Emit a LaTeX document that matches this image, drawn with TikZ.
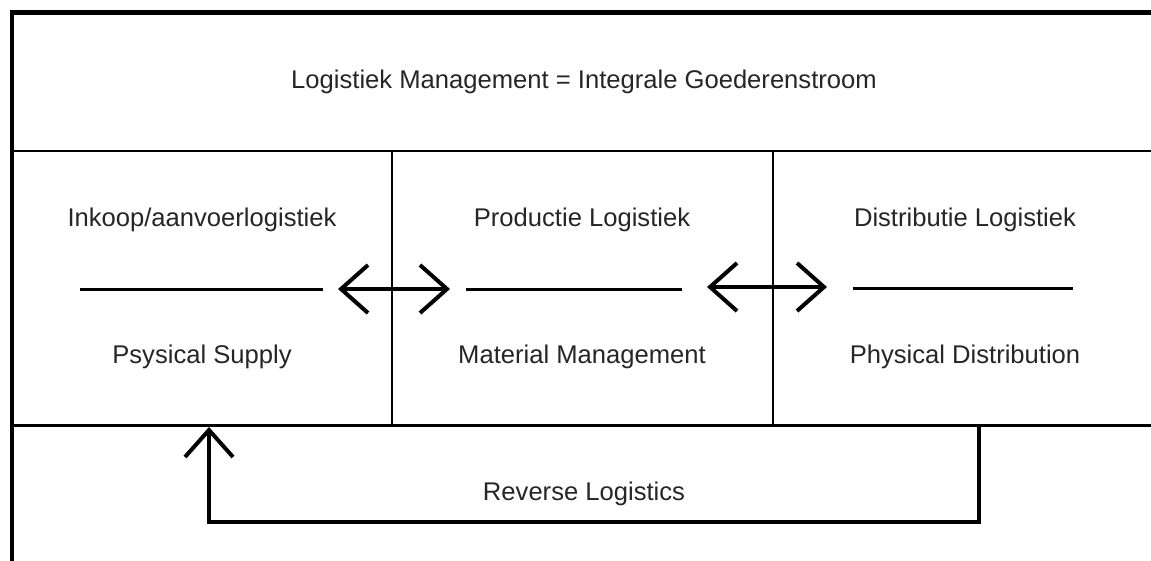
\documentclass[tikz,border=0pt]{standalone}
\usepackage{fontspec}
\setmainfont{Liberation Sans}
\usetikzlibrary{arrows.meta}
\begin{document}
\begin{tikzpicture}[x=1pt,y=-1pt,
  frame/.style={line width=4.5pt},
  grid/.style={line width=2.8pt},
  sepline/.style={line width=3pt},
  flow/.style={line width=4pt,
    arrows={Straight Barb[length=27pt,width=48pt,line width=4pt]-Straight Barb[length=27pt,width=48pt,line width=4pt]}},
  back/.style={line width=4pt, line join=miter,
    arrows={-Straight Barb[length=27pt,width=48pt,line width=4pt]}},
  lbl/.style={font=\fontsize{25.6}{30}\selectfont, text=black!85, inner sep=0pt}]
\useasboundingbox (0,0) rectangle (1151,560);
\clip (0,0) rectangle (1151,560);
\fill[white] (0,0) rectangle (1151,560);

% outer frame and grid
\draw[frame] (1160,12.5) -- (12,12.5) -- (12,570);
\draw[grid] (12,151) -- (1160,151);
\draw[grid] (12,425.5) -- (1160,425.5);
\draw[grid] (392,151) -- (392,425.5);
\draw[grid] (773,151) -- (773,425.5);

% labels
\node[lbl] (title) at (584,82) {Logistiek Management = Integrale Goederenstroom};
\node[lbl] (in1) at (202,220) {Inkoop/aanvoerlogistiek};
\node[lbl] (in2) at (202,357) {Psysical Supply};
\node[lbl] (pr1) at (582,220) {Productie Logistiek};
\node[lbl] (pr2) at (582,357) {Material Management};
\node[lbl] (di1) at (965,220) {Distributie Logistiek};
\node[lbl] (di2) at (965,357) {Physical Distribution};
\node[lbl] (rev) at (584,494) {Reverse Logistics};

% separator lines between the two terms of each column
\coordinate (s1a) at (80,289);  \coordinate (s1b) at (323,289);
\coordinate (s2a) at (466,289); \coordinate (s2b) at (682,289);
\coordinate (s3a) at (853,288); \coordinate (s3b) at (1073,288);
\draw[sepline] (s1a) -- (s1b);
\draw[sepline] (s2a) -- (s2b);
\draw[sepline] (s3a) -- (s3b);

% two-way flows between the columns
\coordinate (f1a) at (338,289); \coordinate (f1b) at (450,289);
\coordinate (f2a) at (707,287); \coordinate (f2b) at (827,287);
\draw[flow] (f1a) -- (f1b);
\draw[flow] (f2a) -- (f2b);

% reverse flow back to the supply column
\coordinate (r0) at (979,425.5);
\coordinate (r1) at (979,522);
\coordinate (r2) at (209,522);
\coordinate (r3) at (209,427);
\draw[back] (r0) -- (r1) -- (r2) -- (r3);
\end{tikzpicture}
\end{document}
